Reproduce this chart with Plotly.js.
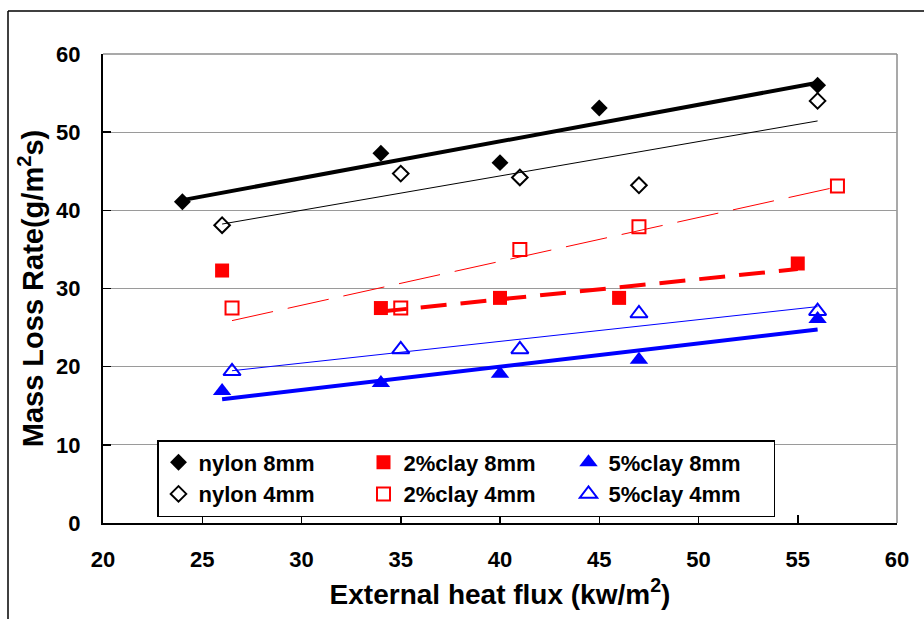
<!DOCTYPE html>
<html>
<head>
<meta charset="utf-8">
<script src="https://cdn.plot.ly/plotly-3.0.1.min.js"></script>
<style>
html,body{margin:0;padding:0;background:#fff;}
#chart{width:924px;height:619px;}
</style>
</head>
<body>
<div id="chart"></div>
<script>
// ---- data ----
const seriesNames = ["nylon 8mm", "2%clay 8mm", "5%clay 8mm", "nylon 4mm", "2%clay 4mm", "5%clay 4mm"];

const nylon8X = [24, 34, 40, 45, 56];
const nylon8Y = [41.1, 47.3, 46.1, 53.1, 56.0];

const clay2_8X = [26, 34, 40, 46, 55];
const clay2_8Y = [32.3, 27.5, 28.8, 28.8, 33.2];

const clay5_8X = [26, 34, 40, 47, 56];
const clay5_8Y = [16.9, 17.9, 19.1, 20.9, 26.1];

const nylon4X = [26, 35, 41, 47, 56];
const nylon4Y = [38.1, 44.7, 44.2, 43.2, 54.0];

const clay2_4X = [26.5, 35, 41, 47, 57];
const clay2_4Y = [27.5, 27.5, 35.0, 37.9, 43.1];

const clay5_4X = [26.5, 35, 41, 47, 56];
const clay5_4Y = [19.4, 22.2, 22.2, 26.8, 27.1];

// first point used by each linear trendline (2%clay 8mm trend starts at the 2nd point)
const trendStart = [0, 1, 0, 0, 0, 0];

const xTicks = [20, 25, 30, 35, 40, 45, 50, 55, 60];
const yTicks = [0, 10, 20, 30, 40, 50, 60];

// ---- build ----
const FONT = '"Liberation Sans", Arial, sans-serif';
const seriesX = [nylon8X, clay2_8X, clay5_8X, nylon4X, clay2_4X, clay5_4X];
const seriesY = [nylon8Y, clay2_8Y, clay5_8Y, nylon4Y, clay2_4Y, clay5_4Y];

const markerStyles = [
  {symbol: 'diamond', size: 13, color: '#000000'},
  {symbol: 'square', size: 14, color: '#FF0000'},
  {symbol: 'triangle-up', size: 16, color: '#0000FF'},
  {symbol: 'diamond-open', size: 12, color: '#000000', line: {width: 2, color: '#000000'}},
  {symbol: 'square-open', size: 13, color: '#FF0000', line: {width: 2, color: '#FF0000'}},
  {symbol: 'triangle-up-open', size: 15, color: '#0000FF', line: {width: 2, color: '#0000FF'}}
];
const lineStyles = [
  {color: '#000000', width: 4, dash: 'solid'},
  {color: '#FF0000', width: 4, dash: '26px,14px'},
  {color: '#0000FF', width: 4, dash: 'solid'},
  {color: '#000000', width: 1, dash: 'solid'},
  {color: '#FF0000', width: 1, dash: '42px,15px'},
  {color: '#0000FF', width: 1, dash: 'solid'}
];

function linFit(xs, ys) {
  const n = xs.length;
  const mx = xs.reduce((a, b) => a + b, 0) / n;
  const my = ys.reduce((a, b) => a + b, 0) / n;
  let sxy = 0, sxx = 0;
  for (let i = 0; i < n; i++) { sxy += (xs[i] - mx) * (ys[i] - my); sxx += (xs[i] - mx) * (xs[i] - mx); }
  const b = sxy / sxx;
  return {a: my - b * mx, b: b};
}

const traces = [];
for (let i = 0; i < seriesNames.length; i++) {
  traces.push({
    type: 'scatter', mode: 'markers', name: seriesNames[i],
    x: seriesX[i], y: seriesY[i],
    marker: markerStyles[i], cliponaxis: false, hoverinfo: 'x+y+name'
  });
}
for (let i = 0; i < seriesNames.length; i++) {
  const xs = seriesX[i].slice(trendStart[i]);
  const ys = seriesY[i].slice(trendStart[i]);
  const f = linFit(xs, ys);
  const x0 = xs[0], x1 = xs[xs.length - 1];
  traces.push({
    type: 'scatter', mode: 'lines', showlegend: false, hoverinfo: 'skip',
    name: seriesNames[i] + ' trend',
    x: [x0, x1], y: [f.a + f.b * x0, f.a + f.b * x1],
    line: lineStyles[i]
  });
}

const W = 924, H = 619;
const M = {l: 103, r: 27, t: 54, b: 96};
const pw = W - M.l - M.r, ph = H - M.t - M.b;
const px = v => (v - M.l) / pw;
const py = v => (H - M.b - v) / ph;

const layout = {
  width: W, height: H,
  margin: {l: M.l, r: M.r, t: M.t, b: M.b, pad: 0},
  paper_bgcolor: '#ffffff', plot_bgcolor: '#ffffff',
  font: {family: FONT, color: '#000000'},
  showlegend: true,
  xaxis: {
    range: [20, 60], tickvals: xTicks, ticktext: xTicks.map(String),
    showgrid: false, zeroline: false,
    showline: true, linecolor: '#000000', linewidth: 2,
    ticks: 'inside', ticklen: 8, tickwidth: 1.5, tickcolor: '#000000',
    ticklabelstandoff: 16,
    tickfont: {family: FONT, size: 22, color: '#000000', weight: 'bold'},
    title: {text: 'External heat flux (kw/m<sup>2</sup>)', standoff: 13,
            font: {family: FONT, size: 28, color: '#000000', weight: 'bold'}},
    fixedrange: true
  },
  yaxis: {
    range: [0, 60], tickvals: yTicks, ticktext: yTicks.map(String),
    showgrid: true, gridcolor: '#9a9a9a', gridwidth: 1,
    zeroline: false,
    showline: true, linecolor: '#000000', linewidth: 2,
    ticks: 'inside', ticklen: 8, tickwidth: 1.5, tickcolor: '#000000',
    ticklabelstandoff: 16,
    tickfont: {family: FONT, size: 22, color: '#000000', weight: 'bold'},
    title: {text: 'Mass Loss Rate(g/m<sup>2</sup>s)', standoff: 4,
            font: {family: FONT, size: 29, color: '#000000', weight: 'bold'}},
    fixedrange: true
  },
  legend: {
    orientation: 'h', x: px(157), y: py(440), xanchor: 'left', yanchor: 'top',
    bgcolor: '#ffffff', bordercolor: '#000000', borderwidth: 1.5,
    entrywidth: 160, entrywidthmode: 'pixels', itemwidth: 30,
    font: {family: FONT, size: 22, color: '#000000', weight: 'bold'},
    traceorder: 'normal'
  },
  shapes: [
    // gray top and right plot-area border
    {type: 'line', xref: 'paper', yref: 'paper', x0: 0, x1: 1, y0: 1, y1: 1, line: {color: '#8c8c8c', width: 1.5}, layer: 'below'},
    {type: 'line', xref: 'paper', yref: 'paper', x0: 1, x1: 1, y0: 0, y1: 1, line: {color: '#8c8c8c', width: 1.5}, layer: 'below'},
    // outer chart-area frame (left and top)
    {type: 'line', xref: 'paper', yref: 'paper', x0: px(8), x1: px(8), y0: py(11), y1: py(625), line: {color: '#000000', width: 1.5}},
    {type: 'line', xref: 'paper', yref: 'paper', x0: px(8), x1: px(930), y0: py(11), y1: py(11), line: {color: '#000000', width: 1.5}}
  ]
};

Plotly.newPlot('chart', traces, layout, {displayModeBar: false, staticPlot: true});
</script>
</body>
</html>
